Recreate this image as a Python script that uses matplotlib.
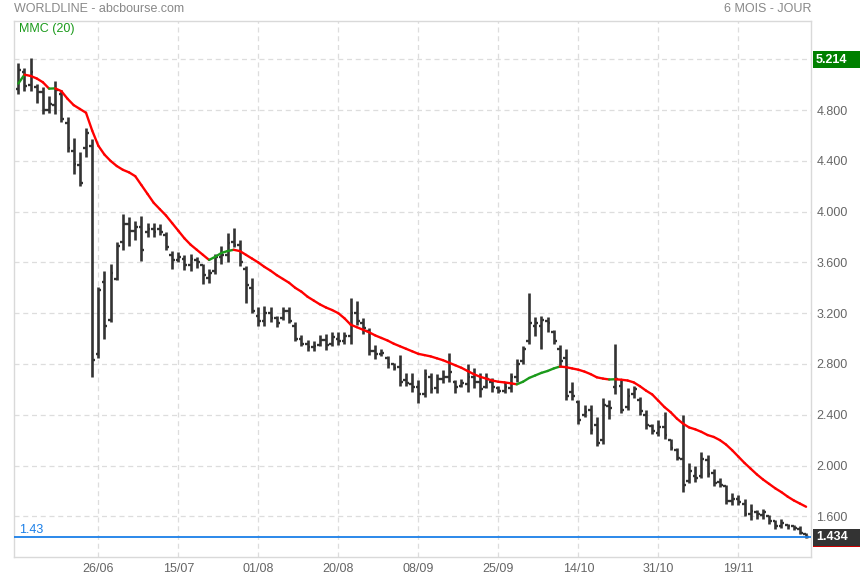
import numpy as np
import pandas as pd
import matplotlib
matplotlib.use("Agg")
import matplotlib.pyplot as plt
from matplotlib.collections import LineCollection
from matplotlib.patches import Rectangle
from matplotlib.transforms import blended_transform_factory

plt.rcParams['font.family'] = ['Liberation Sans', 'DejaVu Sans']

# ---------------- data ----------------
dates = pd.bdate_range("2025-06-09", "2025-12-04")

high = [5.17, 5.13, 5.214, 5.01, 4.98, 4.91, 5.03, 4.96, 4.75, 4.58,
        4.47, 4.66, 4.57, 3.41, 3.53, 3.59, 3.76, 3.98, 3.96, 3.93,
        3.97, 3.91, 3.91, 3.90, 3.84, 3.69, 3.68, 3.66, 3.67, 3.64,
        3.59, 3.55, 3.67, 3.73, 3.83, 3.87, 3.78, 3.57, 3.48, 3.25,
        3.26, 3.25, 3.18, 3.25, 3.25, 3.13, 3.03, 2.99, 2.98, 3.03,
        3.04, 3.05, 3.05, 3.05, 3.32, 3.30, 3.16, 3.08, 2.95, 2.92,
        2.86, 2.81, 2.87, 2.73, 2.73, 2.67, 2.76, 2.73, 2.72, 2.75,
        2.89, 2.67, 2.68, 2.80, 2.77, 2.73, 2.73, 2.69, 2.63, 2.66,
        2.73, 2.84, 2.94, 3.36, 3.17, 3.18, 3.17, 3.07, 2.95, 2.92,
        2.66, 2.52, 2.48, 2.48, 2.38, 2.53, 2.52, 2.96, 2.67, 2.61,
        2.63, 2.54, 2.44, 2.33, 2.36, 2.42, 2.21, 2.14, 2.40, 2.02,
        2.00, 2.11, 2.08, 1.97, 1.90, 1.85, 1.78, 1.77, 1.74, 1.70,
        1.65, 1.66, 1.61, 1.57, 1.58, 1.54, 1.53, 1.52, 1.47]
low = [4.93, 4.95, 4.95, 4.86, 4.77, 4.78, 4.77, 4.71, 4.47, 4.30,
       4.20, 4.43, 2.70, 2.85, 3.00, 3.13, 3.46, 3.70, 3.73, 3.78,
       3.61, 3.80, 3.80, 3.82, 3.70, 3.55, 3.60, 3.54, 3.53, 3.56,
       3.43, 3.44, 3.51, 3.59, 3.60, 3.72, 3.57, 3.28, 3.20, 3.10,
       3.10, 3.13, 3.09, 3.15, 3.12, 2.98, 2.94, 2.90, 2.90, 2.94,
       2.91, 2.94, 2.95, 2.96, 2.96, 3.11, 3.04, 2.87, 2.84, 2.86,
       2.77, 2.75, 2.63, 2.63, 2.58, 2.49, 2.54, 2.57, 2.57, 2.65,
       2.66, 2.57, 2.62, 2.58, 2.61, 2.54, 2.61, 2.58, 2.57, 2.57,
       2.58, 2.66, 2.80, 2.96, 3.02, 2.92, 3.05, 2.96, 2.78, 2.52,
       2.52, 2.33, 2.38, 2.25, 2.15, 2.17, 2.37, 2.56, 2.41, 2.44,
       2.53, 2.40, 2.29, 2.25, 2.23, 2.21, 2.12, 2.04, 1.79, 1.86,
       1.87, 1.90, 1.91, 1.84, 1.83, 1.70, 1.69, 1.69, 1.60, 1.57,
       1.58, 1.58, 1.54, 1.50, 1.51, 1.50, 1.49, 1.46, 1.43]
open_ = [4.97, 5.10, 5.00, 4.98, 4.94, 4.80, 4.84, 4.93, 4.70, 4.48,
         4.37, 4.50, 4.52, 2.88, 3.45, 3.15, 3.47, 3.76, 3.90, 3.85,
         3.88, 3.84, 3.86, 3.86, 3.82, 3.66, 3.62, 3.63, 3.58, 3.62,
         3.58, 3.48, 3.53, 3.64, 3.66, 3.76, 3.74, 3.55, 3.40, 3.18,
         3.14, 3.20, 3.16, 3.16, 3.22, 3.10, 3.00, 2.96, 2.93, 2.95,
         2.99, 2.96, 3.00, 2.98, 3.02, 3.20, 3.12, 3.06, 2.90, 2.88,
         2.85, 2.80, 2.78, 2.67, 2.64, 2.62, 2.56, 2.70, 2.61, 2.68,
         2.70, 2.66, 2.63, 2.64, 2.70, 2.66, 2.62, 2.66, 2.61, 2.59,
         2.61, 2.70, 2.82, 2.98, 3.10, 3.10, 3.14, 3.05, 2.92, 2.85,
         2.58, 2.50, 2.40, 2.44, 2.32, 2.20, 2.47, 2.62, 2.63, 2.46,
         2.56, 2.52, 2.40, 2.31, 2.26, 2.30, 2.20, 2.12, 2.05, 1.88,
         1.92, 1.92, 2.04, 1.94, 1.87, 1.84, 1.72, 1.74, 1.70, 1.62,
         1.63, 1.61, 1.60, 1.56, 1.52, 1.53, 1.52, 1.50, 1.46]
close = [5.12, 4.99, 5.10, 4.94, 4.80, 4.85, 4.96, 4.73, 4.50, 4.38,
         4.23, 4.62, 2.83, 3.38, 3.10, 3.52, 3.73, 3.90, 3.85, 3.88,
         3.70, 3.86, 3.84, 3.84, 3.72, 3.62, 3.64, 3.58, 3.63, 3.60,
         3.50, 3.52, 3.64, 3.66, 3.75, 3.74, 3.60, 3.42, 3.22, 3.14,
         3.20, 3.16, 3.12, 3.22, 3.14, 3.00, 2.96, 2.93, 2.94, 2.99,
         2.95, 3.01, 2.98, 3.02, 3.20, 3.14, 3.08, 2.90, 2.88, 2.89,
         2.80, 2.77, 2.66, 2.65, 2.62, 2.56, 2.72, 2.60, 2.68, 2.70,
         2.74, 2.62, 2.65, 2.70, 2.66, 2.60, 2.68, 2.62, 2.59, 2.62,
         2.70, 2.80, 2.92, 3.12, 3.12, 3.15, 3.12, 2.98, 2.82, 2.55,
         2.55, 2.36, 2.42, 2.28, 2.18, 2.48, 2.45, 2.68, 2.44, 2.55,
         2.60, 2.43, 2.32, 2.27, 2.30, 2.24, 2.14, 2.06, 1.85, 1.96,
         1.90, 2.05, 1.93, 1.86, 1.85, 1.72, 1.74, 1.71, 1.62, 1.64,
         1.62, 1.63, 1.56, 1.52, 1.55, 1.52, 1.51, 1.47, 1.434]
mmc20 = [5.01, 5.08, 5.07, 5.05, 5.02, 4.970, 4.972, 4.95, 4.89, 4.84,
         4.81, 4.78, 4.64, 4.52, 4.45, 4.40, 4.36, 4.33, 4.31, 4.28,
         4.21, 4.14, 4.07, 4.02, 3.97, 3.91, 3.85, 3.79, 3.74, 3.70,
         3.66, 3.62, 3.645, 3.675, 3.69, 3.70, 3.69, 3.66, 3.63, 3.60,
         3.565, 3.535, 3.50, 3.47, 3.44, 3.40, 3.37, 3.33, 3.30, 3.27,
         3.245, 3.225, 3.20, 3.16, 3.11, 3.09, 3.07, 3.05, 3.025, 3.005,
         2.985, 2.96, 2.94, 2.92, 2.90, 2.88, 2.87, 2.86, 2.845, 2.83,
         2.81, 2.79, 2.77, 2.745, 2.72, 2.70, 2.685, 2.67, 2.66, 2.655,
         2.648, 2.64, 2.66, 2.69, 2.71, 2.73, 2.745, 2.765, 2.78, 2.775,
         2.765, 2.755, 2.74, 2.72, 2.695, 2.685, 2.678, 2.680, 2.676, 2.670,
         2.655, 2.625, 2.59, 2.56, 2.51, 2.46, 2.42, 2.37, 2.33, 2.30,
         2.285, 2.265, 2.24, 2.225, 2.20, 2.165, 2.12, 2.07, 2.02, 1.975,
         1.93, 1.89, 1.855, 1.82, 1.79, 1.755, 1.725, 1.70, 1.675]

tick_labels = ["26/06", "15/07", "01/08", "20/08", "08/09",
               "25/09", "14/10", "31/10", "19/11"]
y_ticks = [1.6, 2.0, 2.4, 2.8, 3.2, 3.6, 4.0, 4.4, 4.8, 5.2]
last_price = 1.434
max_price = 5.214

# ---------------- figure ----------------
W, H = 860, 580
fig = plt.figure(figsize=(W / 100, H / 100), dpi=100)
L, R, T, B = 14, 811, 21, 557
ax = fig.add_axes([L / W, 1 - B / H, (R - L) / W, (B - T) / H])

x = np.arange(len(dates))
bar_col = "#333333"
ax.vlines(x, low, high, color=bar_col, lw=1.9, zorder=3)
ax.hlines(open_, x - 0.45, x, color=bar_col, lw=1.7, zorder=3)
ax.hlines(close, x, x + 0.45, color=bar_col, lw=1.7, zorder=3)

# moving average, green when rising, red when falling
m = np.asarray(mmc20)
pts = np.column_stack([x, m])
segs = np.stack([pts[:-1], pts[1:]], axis=1)
cols = ["#1b9a1b" if m[i + 1] >= m[i] else "#ff0000" for i in range(len(m) - 1)]
lc = LineCollection(segs, colors=cols, linewidths=1.7, capstyle="round",
                    joinstyle="round", zorder=4)
ax.add_collection(lc)

ax.set_xlim(-0.7, len(dates) - 0.2)
ax.set_ylim(1.279, 5.503)

# last price line
ax.axhline(last_price, color="#1a7fe8", lw=1.3, zorder=5)
tr = blended_transform_factory(ax.transAxes, ax.transData)
ax.text((19 - L) / (R - L), last_price + 0.012, f"{last_price:.2f}", color="#1a7fe8",
        fontsize=9, va="bottom", ha="left", zorder=6, transform=tr)

tick_pos = [dates.get_loc(pd.Timestamp(f"2025-{t[3:]}-{t[:2]}")) for t in tick_labels]
ax.set_xticks(tick_pos)
ax.set_xticklabels(tick_labels)
ax.set_yticks(y_ticks)
ax.set_yticklabels([f"{v:.3f}" if v < 5 else "" for v in y_ticks])
ax.yaxis.tick_right()
ax.tick_params(axis="both", length=0, labelsize=9, colors="#666666")
ax.tick_params(axis="y", pad=4)
ax.tick_params(axis="x", pad=4)
for lbl in ax.get_xticklabels() + ax.get_yticklabels():
    lbl.set_color("#666666")

ax.grid(True, color="#dddddd", linestyle=(0, (4, 3)), lw=0.9, zorder=0)
for s in ax.spines.values():
    s.set_color("#d9d9d9")
    s.set_linewidth(1.0)

# value boxes on the right
px_to_ax = 1 / (R - L)
ppu = (B - T) / (5.503 - 1.279)
box_x = (813 - L) * px_to_ax
box_w = (W - 813) * px_to_ax
box_h = 17 / ppu
top_c = max_price - 0.015
ax.add_patch(Rectangle((box_x, top_c - box_h / 2), box_w, box_h,
                       transform=tr, facecolor="#008000", edgecolor="none",
                       clip_on=False, zorder=6))
ax.text((816 - L) * px_to_ax, top_c, f"{max_price:.3f}", transform=tr,
        color="white", fontsize=9, fontweight="bold", va="center", ha="left",
        clip_on=False, zorder=7)
ax.add_patch(Rectangle((box_x, last_price - box_h / 2), box_w, box_h,
                       transform=tr, facecolor="#333333", edgecolor="none",
                       clip_on=False, zorder=6))
ax.add_patch(Rectangle((box_x, last_price - box_h / 2 - 1.2 / ppu), box_w, 1.2 / ppu,
                       transform=tr, facecolor="#cc0000", edgecolor="none",
                       clip_on=False, zorder=6))
ax.text((816 - L) * px_to_ax, last_price, f"{last_price:.3f}", transform=tr,
        color="white", fontsize=9, fontweight="bold", va="center", ha="left",
        clip_on=False, zorder=7)

# header texts
fig.text(L / W, 1 - 9 / H, "WORLDLINE - abcbourse.com", color="#888888",
         fontsize=9, va="center", ha="left")
fig.text(R / W, 1 - 9 / H, "6 MOIS - JOUR", color="#888888",
         fontsize=9, va="center", ha="right")
fig.text(19 / W, 1 - 29 / H, "MMC (20)", color="#1b9a1b",
         fontsize=9, va="center", ha="left")

fig.savefig("out.png", dpi=100)
